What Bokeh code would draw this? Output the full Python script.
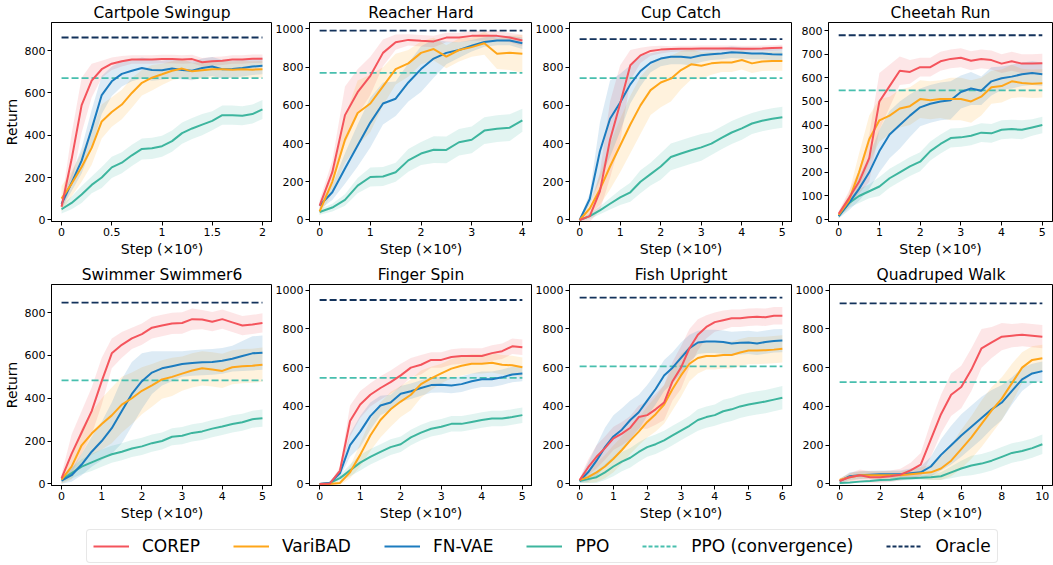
from bokeh.plotting import figure
from bokeh.layouts import column, row
from bokeh.models import FixedTicker, Range1d, Legend, LegendItem
from bokeh.embed import file_html
from bokeh.resources import INLINE

FONT = "DejaVu Sans"
C_COREP = "#F4545C"
C_VARIBAD = "#FFA619"
C_FNVAE = "#1C7CBF"
C_PPO = "#3DB59E"
C_PPOC = "#48BFAE"
C_ORACLE = "#13325B"

method_names = ["COREP", "VariBAD", "FN-VAE", "PPO"]
x_label = "Step (\u00d710\u2076)"

# ---------------- Cartpole Swingup ----------------
cartpole_steps = [0.0, 0.1, 0.2, 0.3, 0.4, 0.5, 0.6, 0.7, 0.8, 0.9, 1.0, 1.1, 1.2, 1.3, 1.4, 1.5, 1.6, 1.7, 1.8, 1.9, 2.0]
cartpole_corep = [62, 286, 542, 658, 712, 738, 750, 758, 758, 758, 760, 760, 758, 760, 745, 750, 752, 758, 758, 762, 762]
cartpole_corep_sd = [20, 120, 130, 80, 40, 30, 25, 20, 20, 20, 20, 20, 20, 20, 20, 20, 20, 20, 20, 20, 20]
cartpole_varibad = [100, 170, 250, 340, 465, 510, 545, 600, 648, 672, 688, 705, 715, 702, 707, 712, 712, 710, 712, 710, 712]
cartpole_varibad_sd = [60, 60, 70, 80, 80, 70, 70, 70, 60, 60, 50, 45, 45, 40, 40, 40, 40, 40, 40, 40, 40]
cartpole_fnvae = [75, 175, 280, 430, 590, 655, 690, 705, 718, 708, 707, 715, 708, 705, 718, 725, 712, 713, 718, 725, 728]
cartpole_fnvae_sd = [20, 40, 60, 90, 90, 70, 60, 50, 50, 50, 45, 45, 45, 45, 45, 45, 45, 40, 40, 40, 40]
cartpole_ppo = [50, 80, 120, 165, 200, 248, 270, 305, 335, 338, 348, 372, 410, 432, 450, 468, 495, 495, 492, 500, 522]
cartpole_ppo_sd = [20, 30, 40, 40, 50, 50, 50, 50, 50, 50, 50, 50, 50, 50, 50, 45, 45, 45, 45, 45, 45]
cartpole_ppo_conv = 670
cartpole_oracle = 862
cartpole_xticks = [0, 0.5, 1, 1.5, 2]
cartpole_xtick_labels = ["0", "0.5", "1", "1.5", "2"]
cartpole_yticks = [0, 200, 400, 600, 800]

# ---------------- Reacher Hard ----------------
reacher_steps = [0, 0.25, 0.5, 0.75, 1.0, 1.25, 1.5, 1.75, 2.0, 2.25, 2.5, 2.75, 3.0, 3.25, 3.5, 3.75, 4.0]
reacher_corep = [75, 250, 549, 669, 755, 875, 931, 943, 938, 935, 955, 955, 964, 964, 964, 955, 940]
reacher_corep_sd = [30, 60, 150, 120, 100, 70, 40, 30, 30, 30, 25, 25, 25, 25, 25, 25, 30]
reacher_varibad = [45, 200, 420, 560, 610, 700, 790, 820, 875, 895, 855, 890, 905, 925, 870, 875, 870]
reacher_varibad_sd = [20, 60, 120, 170, 150, 100, 80, 70, 60, 60, 60, 60, 50, 60, 80, 90, 100]
reacher_fnvae = [75, 145, 270, 390, 510, 610, 635, 720, 790, 845, 875, 890, 912, 932, 940, 940, 925]
reacher_fnvae_sd = [20, 40, 80, 110, 130, 110, 90, 100, 120, 100, 60, 40, 30, 25, 25, 25, 30]
reacher_ppo = [42, 65, 105, 180, 225, 228, 250, 312, 348, 368, 367, 407, 420, 468, 478, 483, 522]
reacher_ppo_sd = [15, 20, 30, 40, 50, 50, 50, 60, 60, 70, 70, 70, 70, 70, 70, 70, 60]
reacher_ppo_conv = 770
reacher_oracle = 991
reacher_xticks = [0, 1, 2, 3, 4]
reacher_xtick_labels = ["0", "1", "2", "3", "4"]
reacher_yticks = [0, 200, 400, 600, 800, 1000]

# ---------------- Cup Catch ----------------
cup_steps = [0, 0.25, 0.5, 0.75, 1.0, 1.25, 1.5, 1.75, 2.0, 2.25, 2.5, 2.75, 3.0, 3.25, 3.5, 3.75, 4.0, 4.25, 4.5, 4.75, 5.0]
cup_corep = [0, 20, 150, 420, 610, 810, 862, 885, 892, 895, 897, 897, 898, 898, 898, 898, 897, 897, 898, 900, 902]
cup_corep_sd = [5, 30, 100, 200, 200, 80, 40, 25, 20, 15, 15, 15, 15, 15, 15, 15, 15, 15, 15, 15, 15]
cup_varibad = [0, 60, 160, 280, 390, 500, 600, 680, 720, 740, 785, 815, 808, 820, 825, 825, 838, 820, 830, 832, 832]
cup_varibad_sd = [5, 30, 80, 120, 140, 150, 150, 130, 130, 120, 100, 80, 70, 60, 50, 50, 50, 50, 50, 50, 50]
cup_fnvae = [0, 110, 360, 530, 615, 710, 780, 823, 845, 855, 855, 850, 862, 868, 872, 878, 875, 872, 872, 868, 866]
cup_fnvae_sd = [5, 30, 150, 200, 150, 100, 80, 50, 40, 40, 40, 40, 35, 30, 30, 30, 30, 30, 30, 30, 30]
cup_ppo = [0, 20, 50, 85, 118, 145, 200, 240, 280, 330, 348, 365, 380, 400, 430, 458, 480, 505, 520, 530, 538]
cup_ppo_sd = [5, 15, 20, 30, 40, 50, 60, 60, 70, 70, 70, 70, 70, 60, 60, 60, 60, 55, 55, 55, 55]
cup_ppo_conv = 743
cup_oracle = 947
cup_xticks = [0, 1, 2, 3, 4, 5]
cup_xtick_labels = ["0", "1", "2", "3", "4", "5"]
cup_yticks = [0, 200, 400, 600, 800, 1000]

# ---------------- Cheetah Run ----------------
cheetah_steps = [0, 0.25, 0.5, 0.75, 1.0, 1.25, 1.5, 1.75, 2.0, 2.25, 2.5, 2.75, 3.0, 3.25, 3.5, 3.75, 4.0, 4.25, 4.5, 4.75, 5.0]
cheetah_corep = [25, 90, 160, 260, 500, 565, 630, 625, 645, 645, 670, 680, 685, 672, 680, 675, 660, 670, 660, 660, 662]
cheetah_corep_sd = [10, 30, 50, 100, 120, 90, 60, 50, 40, 40, 40, 40, 40, 40, 40, 40, 40, 40, 40, 40, 40]
cheetah_varibad = [20, 80, 200, 340, 420, 440, 470, 480, 510, 505, 510, 510, 510, 500, 520, 560, 565, 585, 578, 575, 577]
cheetah_varibad_sd = [10, 30, 80, 100, 90, 80, 80, 80, 80, 80, 80, 90, 90, 90, 80, 70, 70, 70, 60, 60, 60]
cheetah_fnvae = [15, 70, 130, 200, 290, 360, 400, 440, 475, 490, 500, 505, 540, 555, 545, 585, 598, 605, 615, 620, 615]
cheetah_fnvae_sd = [10, 30, 50, 70, 90, 100, 100, 90, 80, 80, 80, 80, 70, 70, 60, 60, 50, 50, 50, 50, 50]
cheetah_ppo = [15, 70, 100, 120, 140, 175, 200, 225, 245, 290, 320, 345, 348, 355, 368, 365, 380, 383, 380, 390, 400]
cheetah_ppo_sd = [10, 20, 30, 30, 40, 40, 40, 40, 40, 40, 40, 40, 40, 40, 40, 40, 40, 40, 40, 35, 35]
cheetah_ppo_conv = 547
cheetah_oracle = 780
cheetah_xticks = [0, 1, 2, 3, 4, 5]
cheetah_xtick_labels = ["0", "1", "2", "3", "4", "5"]
cheetah_yticks = [0, 100, 200, 300, 400, 500, 600, 700, 800]

# ---------------- Swimmer Swimmer6 ----------------
swimmer_steps = [0, 0.25, 0.5, 0.75, 1.0, 1.25, 1.5, 1.75, 2.0, 2.25, 2.5, 2.75, 3.0, 3.25, 3.5, 3.75, 4.0, 4.25, 4.5, 4.75, 5.0]
swimmer_corep = [25, 140, 240, 340, 480, 610, 650, 680, 700, 730, 740, 750, 752, 770, 768, 758, 770, 755, 740, 745, 752]
swimmer_corep_sd = [20, 90, 100, 110, 110, 70, 60, 50, 50, 50, 50, 50, 50, 50, 45, 45, 45, 45, 45, 45, 45]
swimmer_varibad = [20, 80, 180, 235, 280, 320, 370, 400, 435, 460, 488, 500, 515, 530, 540, 535, 528, 545, 550, 552, 557]
swimmer_varibad_sd = [20, 60, 80, 100, 120, 130, 130, 120, 110, 100, 90, 90, 80, 80, 80, 80, 80, 80, 80, 80, 80]
swimmer_fnvae = [15, 40, 90, 150, 200, 260, 340, 420, 480, 520, 540, 550, 560, 565, 568, 570, 575, 585, 598, 610, 613]
swimmer_fnvae_sd = [15, 30, 50, 70, 90, 120, 150, 150, 130, 100, 80, 70, 60, 60, 60, 60, 60, 60, 70, 80, 80]
swimmer_ppo = [20, 50, 80, 100, 120, 138, 150, 165, 175, 190, 200, 220, 225, 238, 245, 258, 268, 280, 288, 302, 307]
swimmer_ppo_sd = [15, 25, 35, 40, 40, 40, 40, 40, 40, 40, 40, 40, 40, 40, 40, 40, 40, 40, 40, 40, 40]
swimmer_ppo_conv = 484
swimmer_oracle = 847
swimmer_xticks = [0, 1, 2, 3, 4, 5]
swimmer_xtick_labels = ["0", "1", "2", "3", "4", "5"]
swimmer_yticks = [0, 200, 400, 600, 800]

# ---------------- Finger Spin ----------------
finger_steps = [0, 0.25, 0.5, 0.75, 1.0, 1.25, 1.5, 1.75, 2.0, 2.25, 2.5, 2.75, 3.0, 3.25, 3.5, 3.75, 4.0, 4.25, 4.5, 4.75, 5.0]
finger_corep = [0, 2, 68, 325, 410, 460, 495, 525, 560, 600, 615, 640, 640, 655, 660, 660, 660, 675, 685, 710, 705]
finger_corep_sd = [5, 5, 20, 80, 70, 60, 60, 60, 60, 50, 50, 40, 40, 40, 40, 40, 40, 40, 40, 40, 40]
finger_varibad = [0, 0, 5, 60, 150, 250, 330, 385, 425, 460, 515, 545, 570, 595, 610, 620, 620, 625, 615, 612, 602]
finger_varibad_sd = [5, 5, 10, 30, 60, 80, 90, 90, 80, 80, 70, 60, 50, 50, 50, 50, 50, 50, 50, 50, 50]
finger_fnvae = [0, 5, 55, 200, 270, 350, 405, 420, 465, 478, 495, 510, 512, 508, 515, 530, 540, 540, 550, 565, 570]
finger_fnvae_sd = [5, 5, 20, 60, 80, 70, 50, 40, 40, 40, 40, 40, 40, 40, 40, 40, 40, 40, 40, 40, 40]
finger_ppo = [0, 5, 30, 70, 110, 140, 165, 190, 205, 240, 265, 285, 295, 310, 310, 320, 330, 338, 338, 345, 355]
finger_ppo_sd = [5, 5, 15, 30, 40, 40, 40, 40, 40, 40, 40, 40, 40, 40, 40, 40, 40, 40, 40, 40, 40]
finger_ppo_conv = 547
finger_oracle = 949
finger_xticks = [0, 1, 2, 3, 4, 5]
finger_xtick_labels = ["0", "1", "2", "3", "4", "5"]
finger_yticks = [0, 200, 400, 600, 800, 1000]

# ---------------- Fish Upright ----------------
fish_steps = [0, 0.25, 0.5, 0.75, 1.0, 1.25, 1.5, 1.75, 2.0, 2.25, 2.5, 2.75, 3.0, 3.25, 3.5, 3.75, 4.0, 4.25, 4.5, 4.75, 5.0, 5.25, 5.5, 5.75, 6.0]
fish_corep = [20, 85, 140, 185, 235, 260, 290, 345, 355, 385, 420, 530, 600, 700, 770, 810, 835, 845, 855, 855, 860, 862, 860, 868, 868]
fish_corep_sd = [10, 40, 60, 60, 60, 60, 60, 60, 70, 80, 90, 100, 110, 100, 80, 60, 50, 50, 45, 45, 45, 45, 45, 45, 45]
fish_varibad = [20, 35, 60, 90, 130, 175, 225, 270, 320, 360, 410, 490, 560, 620, 650, 660, 660, 665, 665, 678, 688, 688, 690, 693, 697]
fish_varibad_sd = [10, 30, 50, 60, 70, 70, 70, 70, 80, 90, 100, 110, 110, 90, 80, 70, 70, 70, 70, 70, 70, 70, 70, 70, 70]
fish_fnvae = [15, 60, 120, 190, 245, 280, 330, 370, 430, 490, 560, 600, 650, 700, 730, 735, 735, 732, 725, 728, 730, 725, 732, 738, 740]
fish_fnvae_sd = [10, 50, 80, 100, 110, 110, 100, 90, 80, 80, 80, 80, 80, 70, 60, 60, 60, 60, 60, 60, 60, 60, 60, 60, 60]
fish_ppo = [15, 25, 35, 60, 90, 115, 135, 165, 190, 205, 225, 250, 275, 300, 330, 345, 355, 375, 385, 400, 410, 418, 425, 435, 445]
fish_ppo_sd = [10, 20, 30, 40, 50, 50, 50, 50, 50, 50, 50, 50, 50, 50, 55, 55, 55, 60, 60, 60, 60, 60, 60, 60, 60]
fish_ppo_conv = 607
fish_oracle = 961
fish_xticks = [0, 1, 2, 3, 4, 5, 6]
fish_xtick_labels = ["0", "1", "2", "3", "4", "5", "6"]
fish_yticks = [0, 200, 400, 600, 800, 1000]

# ---------------- Quadruped Walk ----------------
quad_steps = [0, 0.5, 1.0, 1.5, 2.0, 2.5, 3.0, 3.5, 4.0, 4.5, 5.0, 5.5, 6.0, 6.5, 7.0, 7.5, 8.0, 8.5, 9.0, 9.5, 10.0]
quad_corep = [15, 35, 45, 35, 35, 40, 48, 70, 100, 230, 360, 460, 500, 590, 700, 730, 760, 765, 770, 765, 760]
quad_corep_sd = [10, 20, 30, 30, 30, 30, 30, 40, 60, 90, 100, 110, 110, 110, 100, 80, 70, 60, 60, 60, 60]
quad_varibad = [20, 35, 45, 45, 45, 45, 45, 50, 55, 60, 80, 120, 180, 240, 310, 380, 440, 520, 600, 640, 648]
quad_varibad_sd = [10, 20, 20, 20, 20, 20, 20, 25, 30, 40, 60, 80, 100, 110, 120, 120, 110, 100, 80, 70, 70]
quad_fnvae = [15, 40, 45, 48, 50, 50, 50, 55, 60, 90, 150, 200, 250, 295, 340, 385, 420, 480, 540, 570, 582]
quad_fnvae_sd = [10, 20, 20, 20, 20, 20, 20, 25, 30, 50, 80, 100, 110, 110, 110, 100, 90, 70, 60, 50, 50]
quad_ppo = [5, 8, 12, 15, 20, 22, 28, 30, 32, 35, 40, 60, 80, 95, 105, 120, 140, 160, 170, 185, 205]
quad_ppo_sd = [5, 5, 5, 5, 10, 10, 10, 10, 10, 15, 20, 30, 40, 50, 50, 50, 50, 50, 50, 50, 50]
quad_ppo_conv = 525
quad_oracle = 932
quad_xticks = [0, 2, 4, 6, 8, 10]
quad_xtick_labels = ["0", "2", "4", "6", "8", "10"]
quad_yticks = [0, 200, 400, 600, 800, 1000]

panels = [
    dict(title="Cartpole Swingup", steps=cartpole_steps,
         series=[(cartpole_corep, cartpole_corep_sd), (cartpole_varibad, cartpole_varibad_sd),
                 (cartpole_fnvae, cartpole_fnvae_sd), (cartpole_ppo, cartpole_ppo_sd)],
         ppo_conv=cartpole_ppo_conv, oracle=cartpole_oracle, xticks=cartpole_xticks,
         xlabels=cartpole_xtick_labels, yticks=cartpole_yticks, ytop=933),
    dict(title="Reacher Hard", steps=reacher_steps,
         series=[(reacher_corep, reacher_corep_sd), (reacher_varibad, reacher_varibad_sd),
                 (reacher_fnvae, reacher_fnvae_sd), (reacher_ppo, reacher_ppo_sd)],
         ppo_conv=reacher_ppo_conv, oracle=reacher_oracle, xticks=reacher_xticks,
         xlabels=reacher_xtick_labels, yticks=reacher_yticks, ytop=1034),
    dict(title="Cup Catch", steps=cup_steps,
         series=[(cup_corep, cup_corep_sd), (cup_varibad, cup_varibad_sd),
                 (cup_fnvae, cup_fnvae_sd), (cup_ppo, cup_ppo_sd)],
         ppo_conv=cup_ppo_conv, oracle=cup_oracle, xticks=cup_xticks,
         xlabels=cup_xtick_labels, yticks=cup_yticks, ytop=1034),
    dict(title="Cheetah Run", steps=cheetah_steps,
         series=[(cheetah_corep, cheetah_corep_sd), (cheetah_varibad, cheetah_varibad_sd),
                 (cheetah_fnvae, cheetah_fnvae_sd), (cheetah_ppo, cheetah_ppo_sd)],
         ppo_conv=cheetah_ppo_conv, oracle=cheetah_oracle, xticks=cheetah_xticks,
         xlabels=cheetah_xtick_labels, yticks=cheetah_yticks, ytop=834),
    dict(title="Swimmer Swimmer6", steps=swimmer_steps,
         series=[(swimmer_corep, swimmer_corep_sd), (swimmer_varibad, swimmer_varibad_sd),
                 (swimmer_fnvae, swimmer_fnvae_sd), (swimmer_ppo, swimmer_ppo_sd)],
         ppo_conv=swimmer_ppo_conv, oracle=swimmer_oracle, xticks=swimmer_xticks,
         xlabels=swimmer_xtick_labels, yticks=swimmer_yticks, ytop=932),
    dict(title="Finger Spin", steps=finger_steps,
         series=[(finger_corep, finger_corep_sd), (finger_varibad, finger_varibad_sd),
                 (finger_fnvae, finger_fnvae_sd), (finger_ppo, finger_ppo_sd)],
         ppo_conv=finger_ppo_conv, oracle=finger_oracle, xticks=finger_xticks,
         xlabels=finger_xtick_labels, yticks=finger_yticks, ytop=1029),
    dict(title="Fish Upright", steps=fish_steps,
         series=[(fish_corep, fish_corep_sd), (fish_varibad, fish_varibad_sd),
                 (fish_fnvae, fish_fnvae_sd), (fish_ppo, fish_ppo_sd)],
         ppo_conv=fish_ppo_conv, oracle=fish_oracle, xticks=fish_xticks,
         xlabels=fish_xtick_labels, yticks=fish_yticks, ytop=1029),
    dict(title="Quadruped Walk", steps=quad_steps,
         series=[(quad_corep, quad_corep_sd), (quad_varibad, quad_varibad_sd),
                 (quad_fnvae, quad_fnvae_sd), (quad_ppo, quad_ppo_sd)],
         ppo_conv=quad_ppo_conv, oracle=quad_oracle, xticks=quad_xticks,
         xlabels=quad_xtick_labels, yticks=quad_yticks, ytop=1029),
]

colors = [C_COREP, C_VARIBAD, C_FNVAE, C_PPO]
FRAME_W = 224


def make_panel(cfg, col, rowi):
    steps = cfg["steps"]
    xmax = steps[-1]
    pad = xmax * 0.05
    first = col == 0
    left = 48 if first else 36
    right = 1 if col == 3 else 0
    width = left + FRAME_W + right
    if rowi == 0:
        height, top = 259, 21
    else:
        height, top = 264, 25
    p = figure(width=width, height=height, output_backend="svg", toolbar_location=None,
               x_range=Range1d(-pad, xmax + pad), y_range=Range1d(-8, cfg["ytop"]),
               min_border_left=left, min_border_right=right, min_border_top=top,
               min_border_bottom=36, title=cfg["title"])
    p.title.text_font = FONT
    p.title.text_font_size = "15.5px"
    p.title.text_font_style = "normal"
    p.title.align = "center"
    p.title.text_color = "black"
    p.title.text_line_height = 1.0
    p.title.standoff = 2
    p.title.offset = 0
    p.grid.visible = False
    p.outline_line_color = "black"
    p.outline_line_width = 1
    p.background_fill_color = "white"
    p.border_fill_color = "white"

    # bands
    for (mean, sd), c in zip(cfg["series"], colors):
        lo = [m - s for m, s in zip(mean, sd)]
        hi = [m + s for m, s in zip(mean, sd)]
        p.varea(x=steps, y1=lo, y2=hi, fill_color=c, fill_alpha=0.15)
    # reference lines
    p.line([0, xmax], [cfg["ppo_conv"], cfg["ppo_conv"]], line_color=C_PPOC, line_width=1.8, line_dash="7 3")
    p.line([0, xmax], [cfg["oracle"], cfg["oracle"]], line_color=C_ORACLE, line_width=1.8, line_dash="7 3")
    # mean lines (PPO first, COREP on top)
    for (mean, sd), c in reversed(list(zip(cfg["series"], colors))):
        p.line(steps, mean, line_color=c, line_width=2)

    p.xaxis.ticker = FixedTicker(ticks=cfg["xticks"])
    p.xaxis.major_label_overrides = {t: l for t, l in zip(cfg["xticks"], cfg["xlabels"])}
    p.yaxis.ticker = FixedTicker(ticks=cfg["yticks"])
    p.yaxis.major_label_overrides = {t: str(t) for t in cfg["yticks"]}
    for ax in (p.xaxis, p.yaxis):
        ax.major_label_text_font = FONT
        ax.major_label_text_font_size = "11px"
        ax.major_label_text_color = "black"
        ax.major_label_text_line_height = 1.0
        ax.axis_line_color = "black"
        ax.major_tick_line_color = "black"
        ax.major_tick_out = 4
        ax.major_tick_in = 0
        ax.minor_tick_line_color = None
        ax.major_label_standoff = 2
        ax.axis_label_text_font = FONT
        ax.axis_label_text_font_size = "14px"
        ax.axis_label_text_font_style = "normal"
        ax.axis_label_text_color = "black"
        ax.axis_label_text_line_height = 1.0
        ax.axis_label_standoff = 2
    p.xaxis.axis_label = x_label
    if first:
        p.yaxis.axis_label = "Return"
    return p


figs = [make_panel(cfg, i % 4, i // 4) for i, cfg in enumerate(panels)]

# legend strip
LG_H = 42
lg = figure(width=1053, height=LG_H, output_backend="svg", toolbar_location=None,
            x_range=Range1d(0, 1), y_range=Range1d(0, 1), min_border=0)
lg.axis.visible = False
lg.grid.visible = False
lg.outline_line_color = None
off_x = [-5, -4]
off_y = [-5, -5]
items = []
for name, c in zip(method_names, colors):
    r = lg.line(off_x, off_y, line_color=c, line_width=2)
    items.append(LegendItem(label=name, renderers=[r]))
r = lg.line(off_x, off_y, line_color=C_PPOC, line_width=2, line_dash="4 2")
items.append(LegendItem(label="PPO (convergence)", renderers=[r]))
r = lg.line(off_x, off_y, line_color=C_ORACLE, line_width=2, line_dash="4 2")
items.append(LegendItem(label="Oracle", renderers=[r]))
legend = Legend(items=items, orientation="horizontal", location=(86, 2),
                label_text_font=FONT, label_text_font_size="17px", label_text_color="black",
                glyph_width=36, glyph_height=18, label_standoff=13, spacing=33,
                padding=6, margin=0, border_line_color="#d0d0d0", border_line_width=1,
                background_fill_alpha=1.0)
if "border_radius" in Legend.properties():
    legend.border_radius = 4
lg.add_layout(legend, "center")

layout = column(row(*figs[:4]), row(*figs[4:]), lg)
open("out.html", "w").write(file_html(layout, INLINE))
